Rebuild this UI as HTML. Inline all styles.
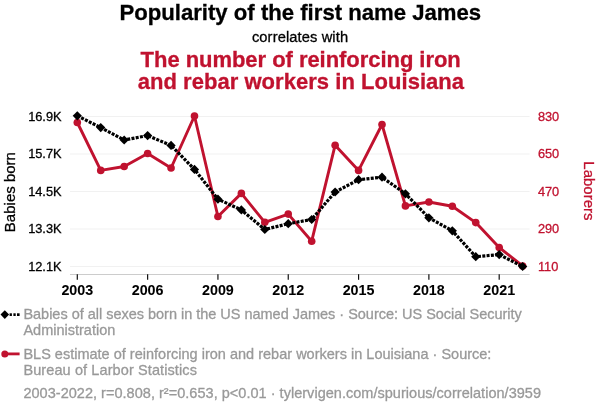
<!DOCTYPE html>
<html><head><meta charset="utf-8"><style>
html,body{margin:0;padding:0;background:#fff;width:600px;height:414px;overflow:hidden}
svg{position:absolute;left:0;top:0;will-change:transform}
svg text{font-family:"Liberation Sans",sans-serif}
</style></head><body>
<svg width="600" height="414" viewBox="0 0 600 414">
<text x="300.3" y="19.9" text-anchor="middle" font-size="22.15" font-weight="bold" fill="#000" stroke="#000" stroke-width="0.3">Popularity of the first name James</text>
<text x="300" y="41.8" textLength="96.2" text-anchor="middle" font-size="14.7" fill="#000" stroke="#000" stroke-width="0.3">correlates with</text>
<text x="300.7" y="67.3" textLength="320.2" text-anchor="middle" font-size="22" font-weight="bold" fill="#C0122F" stroke="#C0122F" stroke-width="0.3">The number of reinforcing iron</text>
<text x="300.9" y="89.3" textLength="326.4" text-anchor="middle" font-size="22" font-weight="bold" fill="#C0122F" stroke="#C0122F" stroke-width="0.3">and rebar workers in Louisiana</text>
<line x1="70" x2="529.6" y1="116.5" y2="116.5" stroke="#F1F1F1" stroke-width="1"/>
<line x1="70" x2="529.6" y1="154.0" y2="154.0" stroke="#F1F1F1" stroke-width="1"/>
<line x1="70" x2="529.6" y1="191.5" y2="191.5" stroke="#F1F1F1" stroke-width="1"/>
<line x1="70" x2="529.6" y1="229.0" y2="229.0" stroke="#F1F1F1" stroke-width="1"/>
<line x1="70" x2="529.6" y1="266.5" y2="266.5" stroke="#F1F1F1" stroke-width="1"/>
<line x1="70" x2="529.6" y1="274.5" y2="274.5" stroke="#CCCCCC" stroke-width="1"/>
<line x1="77.30" x2="77.30" y1="274.2" y2="279.8" stroke="#111" stroke-width="1.2"/>
<text x="77.30" y="294.7" text-anchor="middle" font-size="14.3" font-weight="bold" fill="#000" stroke="#000" stroke-width="0.05">2003</text>
<line x1="147.62" x2="147.62" y1="274.2" y2="279.8" stroke="#111" stroke-width="1.2"/>
<text x="147.62" y="294.7" text-anchor="middle" font-size="14.3" font-weight="bold" fill="#000" stroke="#000" stroke-width="0.05">2006</text>
<line x1="217.93" x2="217.93" y1="274.2" y2="279.8" stroke="#111" stroke-width="1.2"/>
<text x="217.93" y="294.7" text-anchor="middle" font-size="14.3" font-weight="bold" fill="#000" stroke="#000" stroke-width="0.05">2009</text>
<line x1="288.25" x2="288.25" y1="274.2" y2="279.8" stroke="#111" stroke-width="1.2"/>
<text x="288.25" y="294.7" text-anchor="middle" font-size="14.3" font-weight="bold" fill="#000" stroke="#000" stroke-width="0.05">2012</text>
<line x1="358.57" x2="358.57" y1="274.2" y2="279.8" stroke="#111" stroke-width="1.2"/>
<text x="358.57" y="294.7" text-anchor="middle" font-size="14.3" font-weight="bold" fill="#000" stroke="#000" stroke-width="0.05">2015</text>
<line x1="428.88" x2="428.88" y1="274.2" y2="279.8" stroke="#111" stroke-width="1.2"/>
<text x="428.88" y="294.7" text-anchor="middle" font-size="14.3" font-weight="bold" fill="#000" stroke="#000" stroke-width="0.05">2018</text>
<line x1="499.20" x2="499.20" y1="274.2" y2="279.8" stroke="#111" stroke-width="1.2"/>
<text x="499.20" y="294.7" text-anchor="middle" font-size="14.3" font-weight="bold" fill="#000" stroke="#000" stroke-width="0.05">2021</text>
<text x="61.6" y="120.80" text-anchor="end" font-size="12.8" fill="#000" stroke="#000" stroke-width="0.3">16.9K</text>
<text x="61.6" y="158.30" text-anchor="end" font-size="12.8" fill="#000" stroke="#000" stroke-width="0.3">15.7K</text>
<text x="61.6" y="195.80" text-anchor="end" font-size="12.8" fill="#000" stroke="#000" stroke-width="0.3">14.5K</text>
<text x="61.6" y="233.30" text-anchor="end" font-size="12.8" fill="#000" stroke="#000" stroke-width="0.3">13.3K</text>
<text x="61.6" y="270.80" text-anchor="end" font-size="12.8" fill="#000" stroke="#000" stroke-width="0.3">12.1K</text>
<text x="537.9" y="120.80" text-anchor="start" font-size="12.8" fill="#C0122F" stroke="#C0122F" stroke-width="0.3">830</text>
<text x="537.9" y="158.30" text-anchor="start" font-size="12.8" fill="#C0122F" stroke="#C0122F" stroke-width="0.3">650</text>
<text x="537.9" y="195.80" text-anchor="start" font-size="12.8" fill="#C0122F" stroke="#C0122F" stroke-width="0.3">470</text>
<text x="537.9" y="233.30" text-anchor="start" font-size="12.8" fill="#C0122F" stroke="#C0122F" stroke-width="0.3">290</text>
<text x="537.9" y="270.80" text-anchor="start" font-size="12.8" fill="#C0122F" stroke="#C0122F" stroke-width="0.3">110</text>
<text  transform="translate(15.3,192.1) rotate(-90)" text-anchor="middle" font-size="15" fill="#000" stroke="#000" stroke-width="0.3">Babies born</text>
<text  transform="translate(583.5,190.9) rotate(90)" text-anchor="middle" font-size="15" fill="#C0122F" stroke="#C0122F" stroke-width="0.3">Laborers</text>
<polyline points="77.30,122.5 100.74,170.4 124.18,166.5 147.62,153.5 171.06,168.0 194.49,116.0 217.93,216.5 241.37,193.4 264.81,222.3 288.25,214.1 311.69,241.2 335.13,145.2 358.57,170.4 382.01,124.5 405.44,205.9 428.88,202.0 452.32,206.2 475.76,222.6 499.20,247.5 522.64,266.0" fill="none" stroke="#C0122F" stroke-width="2.9" stroke-linejoin="round"/>
<circle cx="77.30" cy="122.5" r="3.8" fill="#C0122F"/>
<circle cx="100.74" cy="170.4" r="3.8" fill="#C0122F"/>
<circle cx="124.18" cy="166.5" r="3.8" fill="#C0122F"/>
<circle cx="147.62" cy="153.5" r="3.8" fill="#C0122F"/>
<circle cx="171.06" cy="168.0" r="3.8" fill="#C0122F"/>
<circle cx="194.49" cy="116.0" r="3.8" fill="#C0122F"/>
<circle cx="217.93" cy="216.5" r="3.8" fill="#C0122F"/>
<circle cx="241.37" cy="193.4" r="3.8" fill="#C0122F"/>
<circle cx="264.81" cy="222.3" r="3.8" fill="#C0122F"/>
<circle cx="288.25" cy="214.1" r="3.8" fill="#C0122F"/>
<circle cx="311.69" cy="241.2" r="3.8" fill="#C0122F"/>
<circle cx="335.13" cy="145.2" r="3.8" fill="#C0122F"/>
<circle cx="358.57" cy="170.4" r="3.8" fill="#C0122F"/>
<circle cx="382.01" cy="124.5" r="3.8" fill="#C0122F"/>
<circle cx="405.44" cy="205.9" r="3.8" fill="#C0122F"/>
<circle cx="428.88" cy="202.0" r="3.8" fill="#C0122F"/>
<circle cx="452.32" cy="206.2" r="3.8" fill="#C0122F"/>
<circle cx="475.76" cy="222.6" r="3.8" fill="#C0122F"/>
<circle cx="499.20" cy="247.5" r="3.8" fill="#C0122F"/>
<circle cx="522.64" cy="266.0" r="3.8" fill="#C0122F"/>
<polyline points="77.30,115.8 100.74,127.6 124.18,140.0 147.62,135.6 171.06,145.4 194.49,169.4 217.93,199.2 241.37,209.9 264.81,229.5 288.25,223.7 311.69,219.5 335.13,192.0 358.57,179.7 382.01,177.2 405.44,193.8 428.88,217.8 452.32,230.8 475.76,256.7 499.20,254.6 522.64,266.5" fill="none" stroke="#000" stroke-width="3.2" stroke-dasharray="3 1.3"/>
<path d="M72.70,115.8 L77.30,111.20 L81.90,115.8 L77.30,120.40Z" fill="#000"/>
<path d="M96.14,127.6 L100.74,123.00 L105.34,127.6 L100.74,132.20Z" fill="#000"/>
<path d="M119.58,140.0 L124.18,135.40 L128.78,140.0 L124.18,144.60Z" fill="#000"/>
<path d="M143.02,135.6 L147.62,131.00 L152.22,135.6 L147.62,140.20Z" fill="#000"/>
<path d="M166.46,145.4 L171.06,140.80 L175.66,145.4 L171.06,150.00Z" fill="#000"/>
<path d="M189.89,169.4 L194.49,164.80 L199.09,169.4 L194.49,174.00Z" fill="#000"/>
<path d="M213.33,199.2 L217.93,194.60 L222.53,199.2 L217.93,203.80Z" fill="#000"/>
<path d="M236.77,209.9 L241.37,205.30 L245.97,209.9 L241.37,214.50Z" fill="#000"/>
<path d="M260.21,229.5 L264.81,224.90 L269.41,229.5 L264.81,234.10Z" fill="#000"/>
<path d="M283.65,223.7 L288.25,219.10 L292.85,223.7 L288.25,228.30Z" fill="#000"/>
<path d="M307.09,219.5 L311.69,214.90 L316.29,219.5 L311.69,224.10Z" fill="#000"/>
<path d="M330.53,192.0 L335.13,187.40 L339.73,192.0 L335.13,196.60Z" fill="#000"/>
<path d="M353.97,179.7 L358.57,175.10 L363.17,179.7 L358.57,184.30Z" fill="#000"/>
<path d="M377.41,177.2 L382.01,172.60 L386.61,177.2 L382.01,181.80Z" fill="#000"/>
<path d="M400.84,193.8 L405.44,189.20 L410.04,193.8 L405.44,198.40Z" fill="#000"/>
<path d="M424.28,217.8 L428.88,213.20 L433.48,217.8 L428.88,222.40Z" fill="#000"/>
<path d="M447.72,230.8 L452.32,226.20 L456.92,230.8 L452.32,235.40Z" fill="#000"/>
<path d="M471.16,256.7 L475.76,252.10 L480.36,256.7 L475.76,261.30Z" fill="#000"/>
<path d="M494.60,254.6 L499.20,250.00 L503.80,254.6 L499.20,259.20Z" fill="#000"/>
<path d="M518.04,266.5 L522.64,261.90 L527.24,266.5 L522.64,271.10Z" fill="#000"/>
<path d="M0.5,314.6 L4.8,310.3 L9.1,314.6 L4.8,318.9Z" fill="#000"/>
<rect x="9.6" y="313.3" width="2.3" height="2.7" fill="#000"/>
<rect x="13.4" y="313.3" width="2.3" height="2.7" fill="#000"/>
<rect x="17.0" y="313.3" width="2.6" height="2.7" fill="#000"/>
<circle cx="4.8" cy="353.9" r="3.5" fill="#C0122F"/>
<rect x="5" y="352.5" width="14.6" height="2.8" fill="#C0122F"/>
<text x="23.4" y="318.6" textLength="498.4" font-size="14.5" fill="#999999" stroke="#999999" stroke-width="0.3">Babies of all sexes born in the US named James · Source: US Social Security</text>
<text x="23.4" y="334.6" font-size="14.5" fill="#999999" stroke="#999999" stroke-width="0.3">Administration</text>
<text x="23.4" y="358.7" textLength="468" font-size="14.5" fill="#999999" stroke="#999999" stroke-width="0.3">BLS estimate of reinforcing iron and rebar workers in Louisiana · Source:</text>
<text x="23.4" y="374.6" textLength="173.5" font-size="14.5" fill="#999999" stroke="#999999" stroke-width="0.3">Bureau of Larbor Statistics</text>
<text x="23.4" y="397.6" textLength="517.6" font-size="14.5" fill="#999999" stroke="#999999" stroke-width="0.3">2003-2022, r=0.808, r²=0.653, p&lt;0.01 · tylervigen.com/spurious/correlation/3959</text>
</svg>
</body></html>
